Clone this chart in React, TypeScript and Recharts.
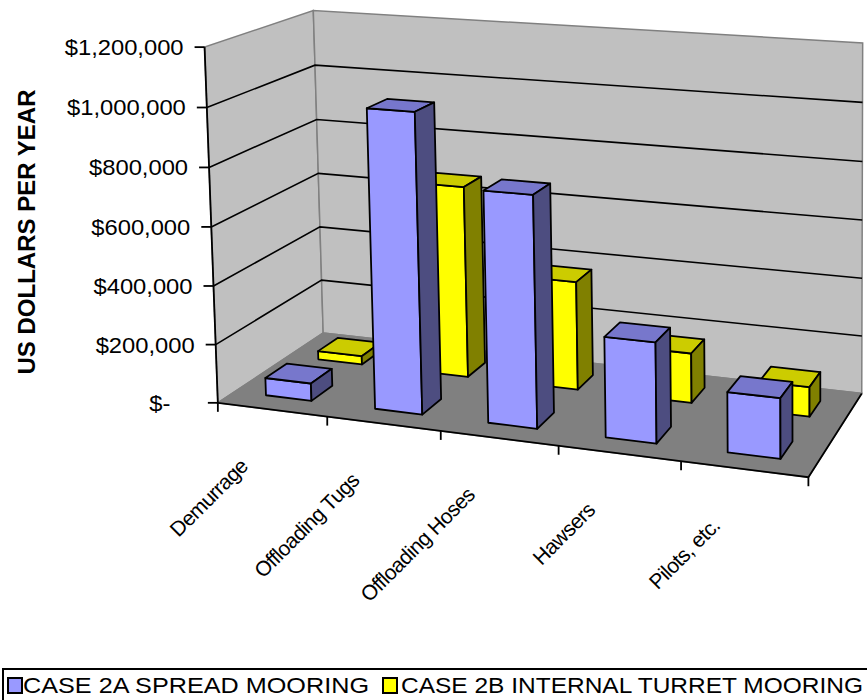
import { Bar, BarChart, Customized, XAxis, YAxis } from "recharts"

const W = 867
const H = 700
const Y_MAX = 1200000

// plot rectangle left after the 1px axis strips
const PLOT_LEFT = 1
const PLOT_W = W - 1
const PLOT_H = H - 1

const categories = ["Demurrage", "Offloading Tugs", "Offloading Hoses", "Hawsers", "Pilots, etc."]
const case2A = [60000, 1010000, 770000, 330000, 195000]
const case2B = [30000, 670000, 375000, 170000, 100000]
const yTicks = [0, 200000, 400000, 600000, 800000, 1000000, 1200000]

const seriesNames = ["CASE 2A SPREAD MOORING", "CASE 2B INTERNAL TURRET MOORING"]

const data = categories.map((name, i) => ({ name, case2A: case2A[i], case2B: case2B[i] }))

const FONT = "'Liberation Sans', Arial, sans-serif"

// reference points of the box (u along categories, v up the value axis, w into depth)
// used to fit the perspective camera: [u, v, w, screenX, screenY]
const FRAME_FIT: number[][] = [
  [0, 0, 0, 217, 402],
  [0, 1 / 6, 0, 215, 344],
  [0, 2 / 6, 0, 213, 288],
  [0, 3 / 6, 0, 211, 229],
  [0, 4 / 6, 0, 209, 168],
  [0, 5 / 6, 0, 207, 108],
  [0, 1, 0, 205, 46],
  [0, 0, 1, 323, 332],
  [0, 4 / 6, 1, 317, 121],
  [0, 5 / 6, 1, 315, 65],
  [0, 1, 1, 314, 9],
  [1, 0, 1, 862, 395],
  [1, 5 / 6, 1, 862, 104],
  [1, 1, 1, 862, 41],
  [0.2, 0, 0, 328, 416],
  [0.4, 0, 0, 442, 430],
  [0.6, 0, 0, 557, 445],
  [0.8, 0, 0, 682, 461],
  [1, 0, 0, 809, 477],
]

// least squares DLT for a 3x4 projection matrix (last entry fixed to 1)
function solveCamera(pts: number[][]) {
  const n = 11
  const M = Array.from({ length: n }, () => new Array(n + 1).fill(0))
  const add = (r: number[], b: number) => {
    for (let i = 0; i < n; i++) {
      for (let j = 0; j < n; j++) M[i][j] += r[i] * r[j]
      M[i][n] += r[i] * b
    }
  }
  for (const [X, Y, Z, x, y] of pts) {
    add([X, Y, Z, 1, 0, 0, 0, 0, -x * X, -x * Y, -x * Z], x)
    add([0, 0, 0, 0, X, Y, Z, 1, -y * X, -y * Y, -y * Z], y)
  }
  for (let c = 0; c < n; c++) {
    let piv = c
    for (let r = c + 1; r < n; r++) if (Math.abs(M[r][c]) > Math.abs(M[piv][c])) piv = r
    const tmp = M[c]
    M[c] = M[piv]
    M[piv] = tmp
    for (let r = 0; r < n; r++) {
      if (r === c) continue
      const f = M[r][c] / M[c][c]
      for (let k = c; k <= n; k++) M[r][k] -= f * M[c][k]
    }
  }
  return M.map((row, i) => row[n] / row[i])
}

const cam = solveCamera(FRAME_FIT)

function project(u: number, v: number, w: number): [number, number] {
  const d = cam[8] * u + cam[9] * v + cam[10] * w + 1
  return [
    (cam[0] * u + cam[1] * v + cam[2] * w + cam[3]) / d,
    (cam[4] * u + cam[5] * v + cam[6] * w + cam[7]) / d,
  ]
}

const poly = (pts: number[][]) => pts.map(([u, v, w]) => project(u, v, w).join(",")).join(" ")

// pixel position in the flat plot -> box coordinates
const toU = (px: number) => (px - PLOT_LEFT) / PLOT_W
const toV = (py: number) => (PLOT_H - py) / PLOT_H

function fmtMoney(value: number) {
  if (value === 0) return "$-\u2007\u2007"
  return "$" + value.toLocaleString("en-US")
}

type BoxProps = {
  x?: number
  y?: number
  width?: number
  height?: number
  depth: [number, number]
  front: string
  top: string
  side: string
}

// a column drawn as a box: front, top and right faces
function Box3D({ x, y, width, height, depth, front, top, side }: BoxProps) {
  if (x == null || y == null || width == null || height == null) return null
  const u0 = toU(x)
  const u1 = toU(x + width)
  const v1 = toV(y)
  const v0 = toV(y + height)
  const [w0, w1] = depth
  return (
    <g stroke="#000" strokeWidth={1.8} strokeLinejoin="round">
      <polygon points={poly([[u0, v0, w0], [u1, v0, w0], [u1, v1, w0], [u0, v1, w0]])} fill={front} />
      <polygon points={poly([[u0, v1, w0], [u1, v1, w0], [u1, v1, w1], [u0, v1, w1]])} fill={top} />
      <polygon points={poly([[u1, v0, w0], [u1, v0, w1], [u1, v1, w1], [u1, v1, w0]])} fill={side} />
    </g>
  )
}

function ValueTick(props: any) {
  const { y, payload } = props
  const [ex, ey] = project(0, toV(y), 0)
  return (
    <text
      transform={`translate(${ex - 21},${ey}) scale(1.08,1)`}
      textAnchor="end"
      dy="0.36em"
      fontSize={22}
      fontFamily={FONT}
      fill="#000"
    >
      {fmtMoney(payload.value)}
    </text>
  )
}

function CategoryTick(props: any) {
  const { x, payload } = props
  const [cx, cy] = project(toU(x), 0, 0)
  return (
    <text
      transform={`translate(${cx - 23},${cy + 58}) rotate(-45)`}
      textAnchor="end"
      fontSize={21}
      letterSpacing={-0.6}
      fontFamily={FONT}
      fill="#000"
    >
      {payload.value}
    </text>
  )
}

function ChartFrame() {
  const n = categories.length
  const [fx0, fy0] = project(0, 0, 0)
  const [fx1, fy1] = project(1, 0, 0)
  const [tx, ty] = project(0, 1, 0)
  const [rx, ry] = project(1, 0, 1)
  return (
    <g>
      <polygon points={poly([[0, 0, 0], [0, 1, 0], [0, 1, 1], [0, 0, 1]])} fill="#C0C0C0" stroke="#808080" strokeWidth={1.5} />
      <polygon points={poly([[0, 0, 1], [0, 1, 1], [1, 1, 1], [1, 0, 1]])} fill="#C0C0C0" stroke="#808080" strokeWidth={1.5} />
      <polygon points={poly([[0, 0, 0], [1, 0, 0], [1, 0, 1], [0, 0, 1]])} fill="#808080" stroke="#808080" strokeWidth={1.5} />
      {yTicks
        .filter((t) => t > 0 && t < Y_MAX)
        .map((t) => {
          const v = t / Y_MAX
          return (
            <polyline
              key={t}
              points={poly([[0, v, 0], [0, v, 1], [1, v, 1]])}
              fill="none"
              stroke="#000"
              strokeWidth={1.6}
            />
          )
        })}
      {/* floor front and right edges */}
      <polyline points={`${fx0},${fy0} ${fx1},${fy1} ${rx},${ry}`} fill="none" stroke="#000" strokeWidth={1.8} />
      {/* value axis */}
      <line x1={fx0} y1={fy0} x2={tx} y2={ty} stroke="#000" strokeWidth={1.8} />
      {yTicks.map((t) => {
        const [px, py] = project(0, t / Y_MAX, 0)
        return <line key={t} x1={px - 10} y1={py} x2={px} y2={py} stroke="#000" strokeWidth={1.8} />
      })}
      {Array.from({ length: n + 1 }, (_, k) => {
        const [px, py] = project(k / n, 0, 0)
        return <line key={k} x1={px} y1={py} x2={px} y2={py + 9} stroke="#000" strokeWidth={1.8} />
      })}
      <text
        transform="translate(35,232) rotate(-90)"
        textAnchor="middle"
        fontSize={24}
        fontWeight="bold"
        fontFamily={FONT}
        fill="#000"
      >
        US DOLLARS PER YEAR
      </text>
      {/* legend */}
      <rect x={3} y={669} width={900} height={50} fill="#fff" stroke="#000" strokeWidth={2} />
      <rect x={8} y={678} width={14} height={15} fill="#9999FF" stroke="#000" strokeWidth={2} />
      <text x={23} y={693} fontSize={22} fontFamily={FONT} fill="#000" textLength={346} lengthAdjust="spacingAndGlyphs">
        {seriesNames[0]}
      </text>
      <rect x={383} y={678} width={14} height={15} fill="#FFFF00" stroke="#000" strokeWidth={2} />
      <text x={401} y={693} fontSize={22} fontFamily={FONT} fill="#000" textLength={462} lengthAdjust="spacingAndGlyphs">
        {seriesNames[1]}
      </text>
    </g>
  )
}

export default function App() {
  return (
    <div style={{ position: "absolute", left: 0, top: 0, width: W, height: H, background: "#fff", overflow: "hidden" }}>
      <BarChart
        width={W}
        height={H}
        data={data}
        margin={{ top: 0, right: 0, bottom: 0, left: 0 }}
        barCategoryGap="29%"
      >
        <Customized component={<ChartFrame />} />
        <XAxis
          xAxisId="front"
          dataKey="name"
          height={1}
          axisLine={false}
          tickLine={false}
          interval={0}
          tick={CategoryTick}
        />
        <XAxis xAxisId="back" dataKey="name" hide />
        <YAxis
          domain={[0, Y_MAX]}
          ticks={yTicks}
          width={1}
          axisLine={false}
          tickLine={false}
          interval={0}
          tick={ValueTick}
        />
        <Bar
          xAxisId="back"
          dataKey="case2B"
          name={seriesNames[1]}
          isAnimationActive={false}
          shape={(p: any) => <Box3D {...p} depth={[0.65, 0.85]} front="#FFFF00" top="#CCCC00" side="#808000" />}
        />
        <Bar
          xAxisId="front"
          dataKey="case2A"
          name={seriesNames[0]}
          isAnimationActive={false}
          shape={(p: any) => <Box3D {...p} depth={[0.15, 0.35]} front="#9999FF" top="#7777CC" side="#4D4D80" />}
        />
      </BarChart>
    </div>
  )
}
